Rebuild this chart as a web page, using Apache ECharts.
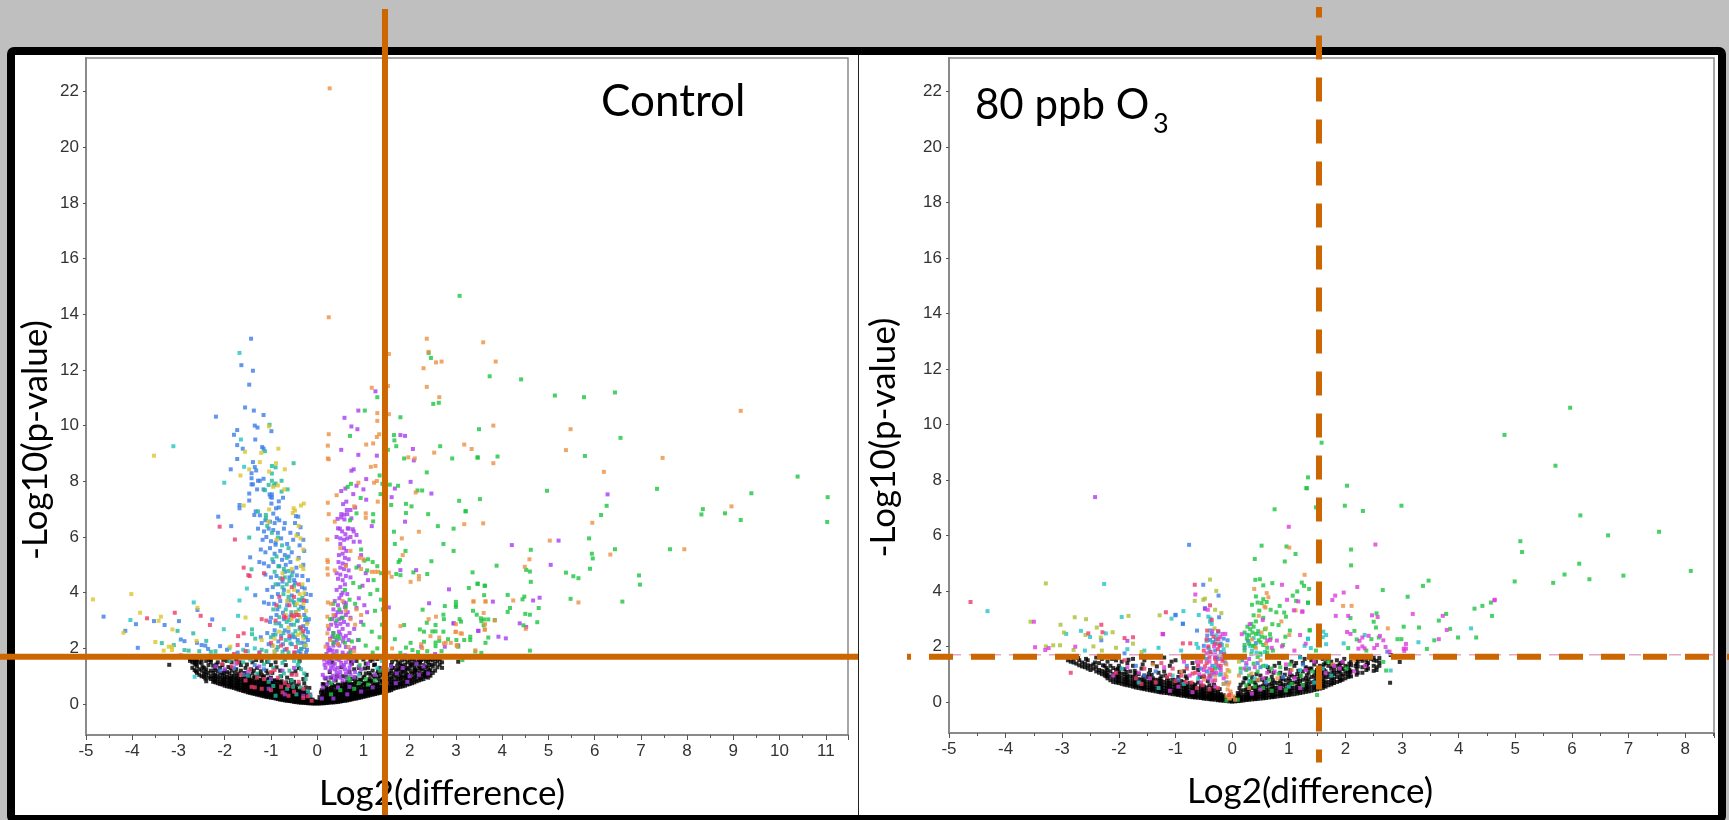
<!DOCTYPE html>
<html>
<head>
<meta charset="utf-8">
<title>Volcano plots</title>
<style>
html,body{margin:0;padding:0;background:#bfbfbf;}
#chart{width:1729px;height:820px;}
</style>
<script src="https://cdn.jsdelivr.net/npm/echarts@6/dist/echarts.min.js"></script>
</head>
<body>
<div id="chart"></div>
<script>
// tick labels
var yTicks = [0,2,4,6,8,10,12,14,16,18,20,22];
var ctlThreshold = {x:1.48, y:1.7};
var ozThreshold = {x:1.537, y:1.63, pink:1.7};

// Control panel: flat x,y,x,y lists per colour
var ctlBlue = [-1.43,13.12,-1.64,12.17,-1.39,11.97,-1.47,11.47,-1.56,10.65,-1.37,10.54,-1.16,10.38,-2.19,10.32,-1.35,10,-1.29,9.93,-.99,9.8,-1.73,9.84,-1.8,9.67,-1.34,9.5,-1.73,9.3,-1.61,9.17,-1.19,9.23,-1.16,9.17,-1.73,8.8,-1.39,8.69,-1.35,8.51,-1.32,8.39,-1.87,8.43,-1.42,8.29,-1.42,8.11,-1.16,8.09,-1.28,8.02,-1.24,8.02,-1.42,7.89,-1.39,7.89,-1.3,7.71,-1.16,7.71,-1.47,7.56,-1.03,7.53,-.98,7.53,-1.01,7.44,-.98,7.41,-.74,7.41,-1.47,7.31,-.83,7.28,-.99,7.2,-1.68,7.15,-1.68,7.03,-.83,7.06,-.89,7.03,-1.33,6.92,-1.36,6.79,-.95,6.84,-.41,6.73,-2.14,6.73,-.87,6.67,-1.86,6.39,-1.24,6.78,-1.2,6.5,-1.12,6.6,-1.02,6.55,-.92,6.5,-.82,6.6,-.7,6.5,-.46,6.75,-.48,6.5,-.36,6.35,-1.28,6.3,-1.15,6.2,-1.05,6.3,-.95,6.25,-.85,6.15,-.72,6.3,-.58,6.15,-.42,6.1,-1.45,5.27,-1.18,5.9,-1.1,6,-1,5.85,-.9,5.8,-.78,5.95,-.65,5.75,-.52,5.9,-.38,5.7,-.3,5.9,-1.22,5.55,-1.12,5.45,-1.02,5.6,-.92,5.4,-.8,5.5,-.7,5.35,-.55,5.45,-.4,5.25,-.28,5.5,-1.25,5.1,-1.15,5.05,-1.05,4.95,-.95,5.1,-.82,4.95,-.68,5,-.58,5.1,-.45,4.9,-.3,5,-1.34,3.91,-1.12,4.65,-1,4.55,-.88,4.6,-.75,4.4,-.6,4.55,-.48,4.35,-.32,4.6,-.2,4.45,-1.08,4.1,-.96,4.2,-.85,3.95,-.72,4.1,-.55,3.9,-.42,4.05,-.27,4.15,-.14,3.92,-1.15,3.65,-1.05,3.6,-.8,3.7,-.65,3.55,-.5,3.65,-.35,3.5,-.23,3.7,-1,3.1,-.88,3.2,-.72,3.05,-.58,3.15,-.42,3,-.28,3.2,-.18,3.05,-1.22,2.4,-1.08,2.55,-.92,2.65,-.78,2.45,-.62,2.6,-.48,2.4,-.32,2.55,-.24,2.7,-.98,2.1,-.84,2.25,-.7,1.95,-.55,2.15,-.4,1.9,-.28,2.05,-.2,2.3,-.3,2.8,-.24,2.4,-.34,2.2,-4.62,3.14,-3.92,2.87,-4.15,2.63,-3.88,2.02,-3.53,2.98,-2.99,2.98,-3.3,2.84,-2.95,2.32,-2.87,2.26,-2.59,3.38,-2.27,3.04,-2.6,2.2,-2.5,2.12,-2.42,2.1,-2.36,1.98,-2.1,2.08,-1.52,2.12,-1.95,1.95,-1.72,1.85,-2.1,1.2,-1.8,1.3,-1.6,1.05,-1.35,1.4,-1.15,1.25,-.98,3.85,-.86,3.4,-.74,3.28,-.62,3.72,-.57,2.85,-.46,3.3,-.38,2.75,-.3,3.45,-.24,3.95,-.21,2.95,-.33,4.2,-.44,4.62,-.53,4.75,-.7,4.75,-.84,4.3,-.93,3.6,-1.02,2.95,-.95,2.48,-.82,2.9,-.7,2.65,-.55,2.42,-.42,2.3,-.27,2.18,-.22,1.95,-.36,1.82,-.48,1.85,-.6,2.35,-.74,2.15,-.88,1.95,-1.05,2.15,-.2,2.58,-.26,3.02,-.34,3.72,-.5,4.45,-.62,5.3,-.76,5.18,-.9,5.72,-.34,1.98,-.24,1.85];
var ctlTeal = [-1.03,10.03,-1.13,9.08,-.51,8.65,-.98,8.55,-.9,8.5,-.98,8.28,-.77,8.02,-.98,8.02,-1.05,7.87,-.9,7.92,-.94,7.86,-1.13,7.68,-.77,7.63,-.64,7.71,-1.28,6.92,-1.11,6.79,-1.11,6.67,-1.47,5.98,-1.42,4.84,-1.08,6.4,-.98,6.15,-.85,5.98,-.76,5.7,-.88,5.3,-.66,5.25,-.97,5.2,-.72,4.85,-.62,4.78,-.92,4.75,-.8,4.52,-.55,4.62,-.66,4.3,-.9,4.3,-.75,4.2,-.62,3.85,-.5,4.25,-.4,3.75,-.82,3.5,-.68,3.4,-.95,3.4,-.56,3.3,-.4,3.4,-.9,2.9,-.78,2.8,-.66,2.95,-.5,2.85,-.37,2.7,-1,2.4,-.85,2.05,-.68,2.3,-.52,2.5,-.42,2.2,-.62,1.85,-1.1,1.9,-2.68,2.54,-3.36,2.19,-3.02,2.63,-3.1,2.12,-2.87,1.94,-2.78,1.92,-2.4,2.27,-2.55,1.9,-2.3,1.88,-2.2,1.9,-1.41,2.68,-1.41,2.51,-1.34,2.35,-1.15,1.42,-.95,1.3,-.75,1.48,-.6,1.2,-.42,1.4,-.28,1.1,-.8,1,-.55,.85,-1.3,1.1,-.95,.65,-.65,.55,-.35,.6,-1.6,1.5,-1.9,1.55,-.2,.45,-.45,.35,-.9,.3,-.73,3.95,-.6,4.42,-.48,3.55,-.32,3.82,-.25,3.1,-.6,3.02,-.47,2.62,-.3,2.45,-.82,3.12,-.73,2.55,-.9,2.5,-.58,2.18,-.35,1.98,-.75,1.88,-.44,2.98,-.54,3.72,-.7,4.55,-.84,4.95,-.62,5.6,-.25,2.12,-1.2,1.95,-.92,1.88,-.4,1.5,-.25,.9,-1.05,.8,-.72,1.1,-.35,1.25,-1.5,1.02,-.52,.62,-.15,.3];
var ctlCyan = [-1.68,12.61,-1.65,9.5,-1.58,8.52,-2.01,7.95,-1.52,4.15,-1.68,3.72,-2.67,3.65,-1.71,3.17,-2.02,2.69,-3.11,9.26,-4.04,3.02,-1.9,2,-1.6,1.95,-1.35,2,-1.25,1.85,-2.65,.98,-1.5,1.9,-2.2,1.75,-1.45,1.6,-1.05,1.55,-.7,1.6,-.5,1.55,.9,1.05,1.3,1.3,1.4,1.55];
var ctlYellow = [-1.04,9.97,-1.56,9.06,-1.21,9.02,-.84,9.17,-1.24,8.69,-.89,8.65,-1.47,8.43,-.7,8.43,-1.04,8.35,-1.66,8.21,-.85,7.85,-.95,7.8,-.71,7.71,-.29,7.2,-.35,7.13,-1.59,7.13,-.51,7.03,-1.04,6.99,-.53,6.86,-1.05,6.55,-.48,6.95,-.4,6.4,-.45,6.05,-.36,5.95,-.3,5.55,-.88,5.9,-.42,5.2,-.35,4.95,-.3,4.85,-.55,4.85,-.75,4.7,-.32,4.3,-.5,4.1,-.62,4.05,-.38,3.95,-.3,3.6,-.24,3.35,-.45,3.3,-.92,2.35,-.95,2.1,-.92,1.9,-.3,2.35,-.35,2.55,-.55,3.05,-1.55,3.11,-1.2,2.3,-4.85,3.76,-4.02,3.95,-3.83,3.28,-3.38,3.14,-3.43,2.99,-3.53,8.92,-3.13,2.68,-3.14,2.06,-3.21,2.06,-3.32,1.92,-3.5,2.23,-2.59,3.46,-2.61,2.27,-4.19,2.56,-1.88,2.06,-3.14,1.94,-.65,3.7,-.44,3.6,-.28,3.98,-.62,2.75,-.42,2.48,-.22,2.88,-.82,2.6,-.68,3.2,-.37,3.12,-.26,2.1];
var ctlRed = [-2.11,6.37,-1.78,5.91,-1.59,4.9,-1.49,4.63,-1.46,4.6,-1.15,4.7,-1.2,3.05,-2.52,3.17,-2.32,2.84,-3.68,3.08,-3.08,3.28,-1.71,2.44,-1.59,2.54,-1.72,2.12,-.75,4.5,-.72,3.15,-.55,3.2,-.5,3.15,-.45,3.2,-.4,3.2,-.82,3.85,-.55,4.2,-.5,3.85,-.68,3.1,-.9,3,-1.1,3,-1,2.2,-.78,2.1,-.6,2.45,-.35,2.75,-.5,1.85,-1.25,1.85,-1.55,1.9,-1.8,1.8,-2.05,1.45,-1.85,1.35,-1.65,1.05,-1.55,.85,-1.45,1.25,-1.3,.95,-1.15,.9,-1,1.15,-.85,.95,-.7,.75,-.55,1.05,-.4,.8,-.3,.55,-1.2,.55,-1,.5,-.75,.42,-.62,.65,-.5,.45,-2.95,1.75,-1.35,.6,-.2,.28,-.12,.12,-.88,3.55,-.6,3.55,-.4,4.3,-.28,3.72,-.78,2.35,-.46,2.05,-.3,2.62,-.66,1.98,-.92,1.22,-.78,.62,-.45,1.05,-.62,.3,-.3,.22,-1.42,.62,-1.72,1.5];
var ctlPurple = [1.26,11.23,.89,10.54,.59,10.28,.74,9.97,.87,9.87,.52,9.13,2.07,9.16,1.8,9.66,1.9,9.63,.89,8.95,1.29,8.92,2.09,8.75,.74,8.38,.79,8.43,1.06,8.08,2.02,7.98,.61,7.74,.52,7.65,.85,7.84,1,7.71,1.68,7.74,2.47,7.56,.78,7.54,1.06,7.34,1.61,7.43,.63,7.27,.56,7.18,.82,7.06,.64,6.97,.72,6.97,.52,6.82,.58,6.8,.52,6.7,.59,6.63,.65,6.82,.74,6.67,.44,6.65,1.18,6.39,.45,6.31,.66,6.31,.77,6.28,1.9,6.55,.49,6.3,.54,6.2,.61,6.1,.68,6.3,.79,6.2,.85,6.07,.42,6,.5,5.95,.58,5.9,.65,5.95,.72,6,.79,5.83,.92,5.83,.5,5.75,.58,5.6,.63,5.5,.55,5.4,.47,5.35,.6,5.25,.68,5.2,.46,5.1,.55,5.05,.62,5,.5,4.9,.58,4.85,.42,4.7,.5,4.65,.62,4.6,.68,4.8,.72,4.55,.45,4.5,.55,4.45,.95,5.35,1.05,4.7,.9,4.95,1.1,4.45,.98,4.25,.6,4.3,.5,4.2,.42,4.1,.55,4,.65,3.95,.48,3.8,.38,3.7,.58,3.65,.45,3.55,.35,3.4,.52,3.3,.4,3.2,.62,3.2,.32,3.05,.48,3.05,.58,2.95,.3,2.85,.42,2.8,.55,2.7,.25,2.7,.35,2.55,.5,2.5,.62,2.45,.28,2.35,.42,2.3,.56,2.25,.22,2.15,.35,2.1,.48,2.1,.62,2.05,.28,1.95,.42,1.9,.55,1.85,.72,1.95,.2,1.8,.35,1.78,.9,3.8,1.02,3.55,.85,3.45,.72,3.1,.95,2.95,1.08,3.3,.8,2.7,.88,2.3,1.55,3.47,2.14,4.81,1.8,4.81,2.85,4.12,2.42,3.62,2.95,2.9,3.48,2.63,4.21,5.71,5.22,5.87,5.05,5,6.28,7.53,4.81,3.82,4.67,3.72,3.8,3.68,4.38,2.9,4.52,2.77,3.49,2.63,3.92,2.42,4.08,2.36,3.05,2.11,2.25,2.06,2.76,2.06,2.95,2.9,1.9,1.75,2.55,1.8,.15,1.6,.22,1.5,.3,1.62,.38,1.45,.48,1.58,.55,1.35,.62,1.5,.7,1.3,.78,1.55,.18,1.3,.28,1.2,.38,1.25,.5,1.15,.62,1.1,.72,1.05,.12,1.05,.25,.95,.4,.95,.55,.85,.82,1.15,.95,1.25,1.1,1.45,1.25,1.05,1.4,1.25,1.6,1.35,1.72,1.1,1.85,1.3,2,1,2.15,1.45,2.3,1.35,2.4,1.1,2.2,1.05,1.95,.8,1.7,.75,1.2,.6,.95,.45,.65,.35,.35,.2,.1,.2,.7,.62,.45,.6,1.5,.75,-.15,.35,-.5,1.3,-.75,1.2,-1,.9,-1.25,1.35,-1.5,1.15,-1.75,1.45,-2,1.25,-2.2,1.35,-1.05,.55,-.7,.35,-.3,.3,.52,3.92,.44,3.3,.6,3.48,.53,3.1,.4,2.92,.66,2.85,.47,2.6,.33,2.42,.57,2.38,.45,2.15,.33,1.92,.6,1.75,.46,1.72,.25,2.02,.68,2.3,.7,2.55,.38,3.15,.5,2.88,.62,3.62,.66,3.3,.36,2.22,.24,1.92,.68,1.82,.8,2.02,.16,1.42,.26,1.55,.42,1.62,.52,1.48,.68,1.62,.72,1.42,.34,1.38,.44,1.3,.6,1.25,.16,.95,.34,1.02,.46,1.05,.22,.72,.36,.85,.5,.95,.64,.92,.8,.98,.9,1.35,.26,1.45,.12,.6,.3,1.3,.68,1.18,.42,1.14,.58,1.4];
var ctlGreen = [3.08,14.66,2.41,12.61,2.46,12.43,3.73,11.77,1.3,11.02,2.51,10.78,2.63,10.82,1.03,10.54,1.8,10.3,.71,9.63,1.66,9.66,1.67,9.47,1.71,9.26,1.53,9.13,2.66,9.26,3.5,9.87,1.88,8.82,2.92,8.82,3.47,8.86,2.37,8.32,1.35,8.21,1.41,7.91,1.57,7.88,1.75,7.84,.73,7.91,.66,7.8,2.17,7.67,2.27,7.67,.94,7.4,1.37,7.54,3.07,7.3,3.52,7.36,1.6,7.15,1.92,7.19,2.04,7.1,3.21,6.93,1.92,6.86,2.4,6.82,1.21,6.82,.85,6.85,1.21,6.56,.71,6.6,2.61,6.39,2.95,6.3,1.66,6.19,1.68,5.75,2.73,5.75,2.95,5.5,1.91,5.5,1.79,5.17,1.76,5.1,2.47,5.13,3.36,4.73,1.71,4.67,1.8,4.63,2.08,4.73,2.38,4.67,3.47,4.33,3.63,4.25,3.28,4.17,3.61,3.91,2.76,3.52,3,3.67,3,3.55,3,3.49,2.28,3.39,3.37,3.35,3.45,3.21,2.73,3.21,2.74,3.05,2.37,2.92,3.54,3.08,3.55,2.98,3.61,3.04,3.7,3.04,3.08,3.05,3.11,2.96,2.56,2.84,1.88,2.84,2.22,2.68,2.31,2.6,2.56,2.61,2.49,2.61,2.73,2.6,1.68,2.33,3.31,2.42,3.31,2.3,3.7,2.39,3.18,2.3,3.64,2.2,3.01,2.3,2.83,2.33,2.31,2.24,2.56,2.21,2.64,2.27,2.02,2.2,3.05,2.06,1.92,2.03,2.56,2.08,2.06,1.94,1.8,1.84,2.18,1.87,2.38,1.9,3.55,1.84,2.69,1.9,4.41,11.66,5.14,11.08,5.77,11.02,6.44,11.19,6.56,9.56,3.47,8.85,3.9,8.89,5.79,8.91,10.39,8.17,4.97,7.66,7.35,7.73,9.39,7.57,11.04,7.43,3.21,6.92,6.26,7.12,6.14,6.79,8.34,7,8.31,6.81,8.82,6.85,9.16,6.61,11.03,6.54,5.88,5.95,4.62,5.54,6.44,5.56,7.63,5.56,5.94,5.4,5.96,5.23,3.88,4.97,4.52,4.82,4.6,4.76,5.9,4.86,5.38,4.72,5.54,4.59,5.65,4.52,6.96,4.62,4.62,4.39,3.47,4.31,3.62,4.25,6.98,4.29,4.12,3.92,4.48,3.86,4.44,3.76,5.48,3.78,6.6,3.68,4.17,3.45,4.12,3.31,4.79,3.45,4.5,3.24,4.6,3.21,3.84,3.02,4.76,2.94,4.46,2.83,3.6,2.83,3.42,1.89,4.6,1.92,3.14,1.58,.95,5.55,1.02,5.15,1.1,5.2,1.2,5.1,1.3,4.95,.85,4.9,1.08,4.8,1.22,4.45,1.38,4.7,1.45,5.3,.78,4.35,.92,4.2,1.15,3.95,1.3,4.1,1.42,3.4,.6,4.1,.7,3.75,.82,3.6,1.25,3.35,1.38,3.75,.35,3.6,.48,3.4,.62,3.5,.28,3.05,.42,3,.55,3.1,1,2.85,1.18,2.6,1.35,2.4,1.4,2.85,.35,2.55,.38,2.4,.45,2.45,.35,2.2,.48,2.35,.9,2.3,.75,2.25,1.05,2.1,1.3,2,.6,2.2,.72,1.85,.42,1.75,1.2,1.85,.9,.75,1.05,.9,.7,.85,1.25,.85,.5,.5,.8,.55,1.1,.7,.3,.35,1.45,.95,1.35,1.2,.92,1.4,.68,.95,.3,.75];
var ctlOrange = [.27,22.11,.25,13.89,2.37,13.12,1.55,12.57,1.53,11.42,1.18,11.36,2.41,12.65,2.3,12.06,2.57,12.27,2.69,12.3,2.37,11.39,2.64,11.02,3.59,12.99,3.86,12.3,1.3,10.45,1.55,10.41,1.3,10.17,.25,9.69,1.34,9.69,1.29,9.59,1.21,9.36,1.06,9.32,.23,9.28,3.18,9.32,3.34,9.16,2.53,9.03,.23,8.82,.25,8.79,1.97,8.86,2.11,8.82,1.16,8.52,1.26,8.55,.89,7.95,1.23,7.95,1.29,8.01,2.13,7.6,1.31,7.27,.23,7.23,.25,6.82,1.05,6.69,.38,6.55,3.18,6.46,3.59,6.49,2.2,6.19,1.83,5.95,1.85,5.35,1.55,4.72,2.2,4.6,2.2,4.48,2.02,4.39,1.61,4.57,3.38,3.69,3.64,3.69,2.57,3.14,2.41,3.05,3,2.87,3.63,2.87,1.8,2.8,3.63,2.68,3,2.6,3.1,2.54,2.45,2.44,2.64,2.39,2.74,2.18,2.78,2.2,2.89,2.2,3.02,2.12,1.62,2,2.25,2.15,2.27,2.01,3.42,1.93,3.81,10,5.48,9.87,5.38,9.12,3.81,8.65,7.47,8.84,6.2,8.34,8.96,7.1,9.16,10.53,5.95,6.51,5.03,5.87,6.34,5.37,7.94,5.56,4.59,5.2,4.49,4.93,4.24,3.72,3.38,3.68,3.64,3.68,5.65,3.65,3.6,3.27,3.84,3,4.51,2.7,3.62,2.67,2.99,2.59,3.13,2.53,3.02,2.08,.22,5.91,.22,5.17,.23,5.1,.22,4.87,.23,4.65,.23,3.65,.22,3.14,.23,2.81,.22,2.54,.18,2.06,.3,3.6,.35,3.2,.55,3.7,.62,3.35,.72,3.05,.82,2.85,.85,3.4,.95,3.2,.28,2.3,.45,2.15,.68,2.05,.8,1.9,.95,4.85,.72,5.5,.92,5.25,1,5.2,1.18,4.75,1.25,4.75,1.32,4.75,.62,4.95,.38,4.8,.5,5.6,.42,7.5,.8,7.1,1.05,6.85];

// black band: x then the y values stacked at that x
var ctlBlack = [
[-3.2,[1.41]],[-2.75,[1.55,1.62]],[-2.7,[1.3,1.5,1.6]],[-2.65,[1.22,1.45,1.58]],[-2.6,[1.12,1.36,1.6]],[-2.55,[1.05,1.25,1.5]],[-2.5,[1,1.2,1.48,1.62]],[-2.45,[.98,1.1,1.3]],[-2.4,[.82,1.05,1.25,1.55]],[-2.35,[.95,1.12,1.4]],[-2.3,[.9,1,1.2,1.5,1.6]],[-2.25,[.8,.95,1.12,1.38]],[-2.2,[.78,.9,1.05,1.3]],[-2.15,[.75,.88,1,1.18,1.5]],[-2.1,[.72,.82,.96,1.12,1.3]],[-2.05,[.7,.8,.92,1.05,1.4]],[-2,[.66,.76,.9,1,1.2]],[-1.95,[.64,.74,.86,.98,1.15,1.55]],[-1.9,[.62,.72,.82,.95,1.1]],[-1.85,[.6,.68,.8,.9,1.02,1.2,1.5]],[-1.8,[.58,.66,.76,.88,1]],[-1.75,[.55,.64,.74,.85,.95,1.25,1.6]],[-1.7,[.52,.6,.7,.8,.92,1.1]],[-1.65,[.5,.58,.68,.78,.9,1.2,1.4]],[-1.6,[.47,.56,.66,.75,.86,1]],[-1.55,[.45,.52,.62,.72,.82,.95,1.3]],[-1.5,[.42,.5,.6,.68,.78,.9,1.05]],[-1.45,[.4,.48,.56,.65,.76,.88]],[-1.4,[.38,.46,.54,.62,.72,.84,1.1,1.5]],[-1.35,[.36,.44,.52,.6,.7,.8,.98]],[-1.3,[.34,.42,.5,.58,.66,.78,.92,1.3]],[-1.25,[.32,.4,.48,.56,.64,.75,.88]],[-1.2,[.3,.38,.46,.52,.62,.72,.85,1.05,1.55]],[-1.15,[.28,.36,.44,.52,.6,.7,.82,1]],[-1.1,[.26,.34,.42,.48,.58,.68,.8,1.2]],[-1.05,[.25,.32,.4,.46,.55,.65,.78,.92]],[-1,[.23,.3,.38,.44,.52,.62,.75,.95,1.4]],[-.95,[.22,.28,.36,.42,.5,.6,.72,.85]],[-.9,[.2,.26,.34,.4,.48,.58,.68,.82,1.5]],[-.85,[.18,.25,.32,.38,.46,.55,.66,.8]],[-.8,[.16,.22,.3,.36,.44,.52,.62,.78,1.2]],[-.75,[.15,.2,.28,.34,.42,.5,.6,.72]],[-.7,[.13,.18,.26,.32,.4,.48,.58,.7,1.6]],[-.65,[.12,.17,.24,.3,.38,.46,.56,.68,.95]],[-.6,[.11,.16,.22,.28,.36,.44,.52,.64]],[-.55,[.1,.15,.2,.26,.34,.42,.5,.62,1.1]],[-.5,[.08,.13,.19,.25,.32,.4,.48,.6,.8]],[-.45,[.07,.12,.18,.23,.3,.38,.46,.56]],[-.4,[.06,.11,.16,.22,.28,.36,.44,.7,1.3]],[-.35,[.05,.1,.15,.2,.26,.34,.42,.52]],[-.3,[.05,.09,.14,.18,.24,.32,.4,.9]],[-.25,[.04,.08,.12,.17,.22,.3,.38,.6]],[-.2,[.03,.07,.11,.15,.2,.28,.42]],[-.15,[.03,.06,.1,.14,.18,.26]],[-.1,[.02,.05,.08,.12,.16]],[-.05,[.02,.04,.07,.1]],[0,[.02,.05,.08]],[.05,[.02,.04,.08,.12,.25]],[.1,[.03,.06,.1,.14,.2,.3,.5]],[.15,[.03,.07,.12,.18,.25,.34,.48,.7]],[.2,[.04,.08,.13,.2,.28,.38,.52,.62]],[.25,[.05,.1,.15,.22,.3,.4,.55,.78]],[.3,[.06,.11,.17,.24,.32,.44,.58,.95]],[.35,[.06,.12,.18,.26,.34,.46,.62]],[.4,[.07,.13,.2,.28,.36,.48,.66,.85]],[.45,[.08,.14,.22,.3,.38,.5,.7]],[.5,[.09,.16,.23,.32,.42,.55,.68]],[.55,[.11,.17,.25,.34,.44,.58,.75,1]],[.6,[.12,.19,.27,.36,.46,.6,.72]],[.65,[.13,.2,.29,.38,.48,.62,.8]],[.7,[.15,.22,.3,.4,.5,.65,.78,1.15]],[.75,[.17,.24,.32,.42,.54,.7,.9,1.45]],[.8,[.19,.26,.34,.44,.58,.72,1.25]],[.85,[.2,.28,.36,.46,.6,.78,1.55]],[.9,[.22,.3,.38,.48,.62,.8,1.3]],[.95,[.24,.32,.4,.52,.66,.85]],[1,[.26,.34,.42,.55,.7,.95,1.6]],[1.05,[.28,.36,.44,.58,.72,1.1,1.45]],[1.1,[.3,.38,.46,.6,.78,1.3]],[1.15,[.32,.4,.48,.62,.8,1.05,1.55]],[1.2,[.34,.42,.52,.66,.85,1.2,1.6]],[1.25,[.36,.44,.55,.7,.95,1.42]],[1.3,[.38,.46,.58,.72,1.1,1.62]],[1.35,[.4,.48,.6,.8,1,1.3]],[1.4,[.42,.52,.64,.85,1.15]],[1.45,[.44,.55,.68,.92]],[1.5,[.46,.58,.72,.98,1.25]],[1.55,[.48,.6,.75,.9,1.1]],[1.6,[.5,.62,.78,.95,1.2,1.4]],[1.65,[.55,.68,.8,1,1.3]],[1.7,[.58,.7,.85,1.05,1.15,1.6]],[1.75,[.6,.72,.9,1.1,1.25,1.5]],[1.8,[.62,.75,.92,1.05,1.3,1.45]],[1.85,[.64,.78,.95,1.15,1.35]],[1.9,[.66,.82,1,1.2,1.42,1.6]],[1.95,[.7,.85,1.05,1.25,1.5]],[2,[.72,.88,1.02,1.3,1.58]],[2.05,[.75,.9,1.1,1.42,1.62]],[2.1,[.78,.95,1.15,1.3,1.55]],[2.15,[.82,1,1.2,1.5]],[2.2,[.85,1.05,1.35,1.6]],[2.25,[.88,1.02,1.25,1.58]],[2.3,[.9,1.08,1.4,1.62]],[2.35,[.98,1.15,1.35,1.55]],[2.4,[.95,1.1,1.28,1.5]],[2.45,[1.02,1.22,1.6]],[2.5,[1.12,1.35,1.58]],[2.55,[1.2,1.45,1.62]],[2.6,[1.32,1.55]],[2.65,[1.42,1.6]],[2.7,[1.3,1.5]],[3.05,[1.52]],
[-2.62,[1.18,1.42]],[-2.42,[.92,1.16]],[-2.22,[.84,1,1.22]],[-2.02,[.74,.86,1.12]],[-1.87,[.66,.78,.92,1.3]],[-1.72,[.58,.7,.84,1.02]],[-1.57,[.5,.6,.74,.9,1.12]],[-1.47,[.44,.54,.7,.84,1]],[-1.37,[.4,.5,.64,.78,.94,1.2]],[-1.27,[.36,.46,.6,.72,.86,1.06]],[-1.17,[.32,.42,.56,.68,.8,.96]],[-1.07,[.28,.4,.5,.62,.74,.88,1.1]],[-.97,[.26,.36,.48,.58,.7,.84]],[-.87,[.22,.32,.44,.56,.68,.86]],[-.77,[.18,.28,.4,.54,.66,.82]],[-.67,[.15,.24,.36,.5,.64,.78]],[-.57,[.12,.22,.32,.46,.58,.74]],[-.47,[.1,.18,.28,.42,.52,.66]],[-.37,[.08,.16,.24,.38,.48]],[-.27,[.06,.12,.2,.34,.46]],[-.17,[.05,.1,.16,.22,.32]],[.12,[.05,.1,.16,.26,.4]],[.22,[.06,.12,.2,.32,.46]],[.32,[.08,.16,.26,.38,.52,.7]],[.42,[.1,.18,.3,.42,.6]],[.52,[.12,.22,.34,.5,.62]],[.62,[.16,.26,.4,.54,.68]],[.72,[.18,.28,.44,.58,.72]],[.82,[.22,.32,.48,.64,.82]],[.92,[.26,.36,.52,.68,.88]],[1.02,[.3,.4,.56,.76,.98]],[1.12,[.34,.44,.6,.84,1.12]],[1.22,[.38,.48,.62,.76,1]],[1.32,[.42,.52,.68,.92,1.2]],[1.42,[.48,.62,.78,1.05]],[1.52,[.54,.68,.82,1.05]],[1.62,[.58,.72,.88,1.1,1.3]],[1.72,[.64,.78,.98,1.22]],[1.82,[.7,.84,1,1.18,1.38]],[1.92,[.76,.92,1.1,1.3]],[2.02,[.82,.98,1.18,1.38]],[2.12,[.88,1.05,1.25,1.42]],[2.22,[.94,1.12,1.28,1.5]],[2.32,[1,1.18,1.32]],[2.42,[1.05,1.18,1.4]]
];
// speckle above the solid part of the band
var ctlBlackUpper = [-2.62,1.52,-2.48,1.34,-2.33,1.58,-2.18,1.42,-2.03,1.58,-1.92,1.33,-1.78,1.12,-1.68,1.5,-1.52,1.42,-1.43,1.25,-1.32,1.58,-1.22,1.18,-1.08,1.52,-.97,1.12,-.88,1.32,-.78,1,-.68,1.4,-.57,.86,-.47,1.18,-.38,1.55,-.28,.75,-.23,1.05,-.17,.58,.08,.42,.12,.72,.18,.92,.27,1.15,.33,1.5,.43,1,.52,1.32,.63,.98,.73,1.52,.83,.95,.93,1.1,1.03,1.28,1.13,.9,1.23,1.4,1.33,1.15,1.62,1.52,1.73,1.38,1.83,1.58,1.93,.95,2.02,1.45,2.12,1.2,2.22,1.48,2.28,1.3,2.33,1.05,2.42,1.62,2.48,1.42];

// 80 ppb O3 panel
var ozBlue = [-.76,5.66,-.51,4.22,-.24,3.83,-.48,3.38,-1,3.14,-.87,2.82,-.62,2.57,-.36,2.45,-.44,2.39,-.24,2.53,-.39,2.23,-.29,2.26,-.08,2.22,-.23,3.05,-2.31,2.22,-1,3.12,-.87,2.81,-.42,1.95,-.3,1.85,-.2,1.8,-.12,1.4,-.35,1.3,-.25,1.55,-.45,1.55,-.55,1.2,-.38,.9,-.2,1,-.1,.7,-1.35,1.1,-1.55,.95,-.95,.8,-.8,1.3,.3,1.2,.18,1.5,.45,1.4,2.74,1.81,-1.9,1.75,-1.7,1.3,1.25,1.35,.9,.9,.6,.7,-.33,2.15,-.2,2.1,-.38,1.72,-.15,2.28,-.5,2.02,-.27,1.62,-.45,1.1,-.22,1.22,-.32,1.02,-.14,1.75,.28,2.2,.42,2.12,.22,1.95,.5,1.25];
var ozRed = [-4.62,3.6,-2.31,2.78,-2.54,2.47,-2.29,2.51,-1.17,3.23,-.66,4.22,-.39,3.48,-.44,2.57,-.24,2.26,-.87,2.11,-.74,2.11,-1.9,2.3,-1.75,2.33,-.36,2.95,-.3,2.1,-.42,2,-.5,1.85,-.38,1.8,-.25,1.9,-.15,1.7,-.3,1.55,-.45,1.4,-.2,1.3,-.55,1.45,-.35,1.15,-.65,1.05,-.5,.95,-.8,1.2,-.9,.95,-.72,.7,-1.05,1.2,-1,.75,-1.25,1.4,-1.15,.9,-1.35,.7,-1.55,1.2,-1.7,.85,-1.9,1.5,-2.05,1.05,-2.85,1.05,-.62,.5,-.4,.45,-.25,.5,-.05,.25,-.33,2.35,-.45,2.25,-.22,2.05,-.4,1.6,-.28,1.42,-.17,1.48,-.48,1.28,-.4,.95,-.3,.78,-.6,1.32,-.7,1.02,-.82,.72,-.52,.6,-1.1,.98,-1.6,.65,-.25,2.55];
var ozMagenta = [1,6.31,-.65,3.87,-.43,3.32,-3.5,2.89,-3.48,1.97,-3.3,1.87,-3.24,1.94,-2.77,1.99,-1.22,2.44,-1.23,2.45,-.17,2.45,-.12,2.45,-.21,2.35,.88,4.22,.97,3.68,1.17,3.62,1.09,3.3,1.24,3.25,.54,2.95,.31,2.8,.17,2.44,1.2,2.41,.62,2.21,.67,2.23,.79,2.21,2.53,5.67,2.21,4.14,1.97,3.94,1.82,3.83,1.77,3.67,1.24,3.26,1.83,3.1,2.05,3.1,2.47,3.12,2.57,3.06,3.19,3.17,3.72,3.1,4.63,3.66,4.64,3.68,3.79,2.59,3.65,2.26,3.07,2.09,3.03,1.92,3.07,1.92,3.04,1.84,2.03,2.52,2.09,2.45,2.25,2.2,2.3,2.32,2.41,2.38,2.61,2.38,2.56,2.05,2.51,1.94,2.23,1.92,2.3,2,2.34,1.93,2.67,2.22,2.71,1.98,2.78,1.81,-.32,2,-.45,1.75,-.3,1.7,-.18,1.55,-.4,1.2,-.28,1.05,-.5,1.15,-.35,.75,-.15,.85,-.55,.7,-.75,.95,-.85,1.45,-.95,.55,-1.2,1.25,-1.45,.85,-1.65,1.05,-1.85,1.25,-2.1,.95,.25,1.4,.4,1.25,.55,.85,.75,1.1,.95,1.35,1.1,.85,1.3,1.15,1.45,1.45,1.65,1.05,1.8,1.3,1.95,1.45,2.15,1.1,2.35,1.3,.5,.45,.85,.5,1.2,.5,.35,.3,-.7,.35,-1.1,.4,.7,1.95,.88,2,1.1,1.85,1.3,2.1,-.4,1.45,-.24,1.3,-.35,1.05,-.42,.85,-.2,1.15,-.3,.55,-.58,1,-.62,1.45,-.22,2.02,-.35,2.55,.22,1.2,.62,1.05,1.02,1.05,1.55,.88,1.9,1.2];
var ozGreen = [.75,6.94,1.32,7.7,.52,5.63,.96,5.6,1.12,5.33,.93,5.06,.4,5.15,.41,4.4,.49,4.42,.55,4.2,.71,4.28,1.23,4.3,1.27,4.18,1.36,4.07,1.15,3.98,1.07,3.83,.42,3.8,.55,3.7,.61,3.6,.45,3.58,.52,3.56,.35,3.5,.84,3.46,1.13,3.64,1.34,3.58,.68,3.32,.78,3.23,.48,3.29,.92,3.22,.95,3.07,.38,3.12,.71,2.8,.82,2.77,.42,2.9,.34,2.81,.38,2.71,.55,3.03,.27,2.71,1.02,2.57,1.37,2.57,.22,2.5,.94,2.35,.52,2.35,.67,2.44,.68,2.29,.3,2.4,.42,2.45,.5,2.15,.55,2.05,.4,2,.62,1.95,.3,2.1,.72,1.85,.9,2.05,.22,1.85,.5,1.75,1.58,9.34,1.34,8.09,1.31,7.7,2.03,7.79,1.99,7.07,1.48,7.01,2.31,6.88,2.99,7.07,2.1,5.49,2.1,4.92,3.47,4.37,3.37,4.18,2.66,4.03,3.1,3.79,1.34,3.57,2.09,3.02,2.55,3.19,2.5,2.89,3.78,3.17,3.65,2.93,4.28,3.36,4.42,3.46,4.57,3.58,4.59,3.1,2.54,2.68,3.03,2.71,3.3,2.68,3.85,2.63,3.99,2.32,4.31,2.32,3.57,2.22,2.92,2.26,2.99,2.26,3.44,1.91,1.37,2.59,1.48,1.85,2.16,2.56,2.05,1.94,2.46,2.26,2.59,2.32,2.2,2.25,2.37,1.85,2.67,1.44,2.72,1.13,5.97,10.6,4.81,9.62,5.71,8.51,6.15,6.72,6.64,6,7.54,6.13,5.09,5.79,5.12,5.4,6.13,4.98,5.87,4.59,5.67,4.29,6.31,4.42,6.91,4.55,8.1,4.72,4.99,4.34,.15,1.2,.3,.95,.45,1.1,.65,.8,.85,1.25,1.05,.65,1.22,.95,1.5,.25,1.02,1.35,1.42,1.1,1.7,1.45,2.02,1.2,.25,.6,.55,.5,-.1,.05,.1,.08,-.3,1.2,.7,.4,.32,2.62,.36,2.5,.46,2.55,.58,2.62,.26,2.28,.37,2.02,.47,2.22,.58,2.32,.22,2.05,.34,1.72,.62,1.78,.25,1.15,.38,1.38,.55,1.3,.7,1.2,.34,.72,.4,.55,.95,.42,1.25,.6,.82,1.02,.45,1.62];
var ozOrange = [1.01,5.56,1.28,4.58,.39,4.07,.61,3.92,.64,3.77,.57,3.44,.59,3.4,.47,3.1,.87,2.9,1.01,2.41,1.96,3.46,2.11,3.46,2.75,2.65,.52,2.5,.6,2.1,.35,2.25,.42,1.95,-.1,1.35,-.08,1.15,-.12,1,-.05,.7,-.08,.45,-.02,.3,-.1,.2,-.04,.12,.02,.2,.05,.08,-.06,.22,.12,.95,.3,.5,.45,.8,.8,.85,1.05,1.15,-.3,.95,-.5,.8,-.9,1.1,-1.4,1.35,1.12,3.3,1.78,1.35,2.15,1.5,-.13,1.55,-.1,.9,-.07,.62,-.15,.65,-.03,.38,-.06,.15,.34,1.02,.5,1.5];
var ozCyan = [-2.26,4.25,-4.32,3.27,-2.93,2.45,-2.67,2.56,-2.51,2.34,-2.23,2.47,-1.95,3.06,-1.07,3,-.86,3.27,-.59,3.13,-.42,3.07,-.39,2.89,-.36,2.81,-.38,3,-.63,2.09,.47,2.45,.38,2.3,1.34,2.27,1.61,2.53,1.66,2.41,1.6,2.33,1.66,2.08,1.34,2.28,1.28,2.02,1.39,1.94,1.97,2.11,2.34,2.41,3.29,2.15,4.22,2.65,2.8,1.13,-.35,2.15,-.25,2.1,-.45,2.2,-.15,1.9,-.6,1.95,-.9,1.85,-1.3,1.95,-1.55,1.85,-1.85,1.9,-2.6,1.85,.35,1.85,.5,1.7,.2,1.65,.15,1.05,.6,1.3,.3,.75,-.25,1.25,-.4,1.05,-.15,.65,-.6,.85,-.85,.65,-1.05,.95,-1.3,.5,-1.65,.7,-1.95,1.2,1.2,1.15,1,.55,1.45,.7,1.6,1.2,1.75,.95,.85,1.65,1.2,1.6,-.38,2.58,-.28,2.4,-.4,1.85,-.18,2.05,-.3,1.3,-.5,1.62,-.22,.98,.26,2.42,.32,2.02,.43,1.78,.25,1.32,.58,1.8,.4,.85];
var ozOlive = [-3.29,4.27,-3.56,2.89,-3.03,2.78,-2.97,2.5,-2.78,3.05,-2.58,2.98,-2.39,2.68,-2.59,2.41,-2.11,2.51,-2.32,2.32,-3.29,2,-3.16,2.04,-3.04,2.04,-2.8,1.87,-1.83,3.1,-1.28,3.12,-.39,4.41,-.28,4,-.66,3.64,-.51,3.68,-.48,3.72,-.3,3.32,-.19,3.2,-.31,2.65,-.09,2.03,-2.45,2,-2.3,1.85,-1.75,2.1,-1.6,1.8,-2.05,1.95,.6,2.65,.12,1.45,-.1,1.6,-.05,1.1,-.2,1.65];
var ozPurple = [-2.42,7.38,-.48,3.35,-1.22,2.44,-.3,1.6,-.6,1.3,.3,1.55,-1.85,2.2];
var ozBlack = [
[-2.9,[1.5]],[-2.85,[1.45]],[-2.8,[1.42,1.55]],[-2.75,[1.38]],[-2.7,[1.32,1.5]],[-2.65,[1.28,1.42]],[-2.6,[1.25,1.38]],[-2.55,[1.2,1.32,1.5]],[-2.5,[1.15,1.3]],[-2.45,[1.2,1.35]],[-2.4,[1.1,1.25,1.6]],[-2.35,[1.05,1.15,1.4]],[-2.3,[1,1.12,1.55]],[-2.25,[.95,1.08,1.3]],[-2.2,[.85,.98,1.15,1.45]],[-2.15,[.78,.92,1.1,1.3]],[-2.1,[.72,.85,1,1.22]],[-2.05,[.7,.82,.95,1.15,1.5]],[-2,[.68,.8,.92,1.08,1.3]],[-1.95,[.65,.75,.88,1.02,1.45]],[-1.9,[.62,.72,.84,1,1.18]],[-1.85,[.6,.7,.82,.95,1.4]],[-1.8,[.58,.66,.78,.92,1.1]],[-1.75,[.55,.64,.75,.9,1.3,1.55]],[-1.7,[.52,.62,.72,.86,1.05]],[-1.65,[.5,.58,.7,.82,1]],[-1.6,[.48,.56,.66,.8,1.2]],[-1.55,[.46,.54,.64,.76,.95,1.5]],[-1.5,[.44,.52,.62,.74,.9]],[-1.45,[.42,.5,.6,.72,.88,1.15]],[-1.4,[.4,.48,.58,.7,.85,1.4]],[-1.35,[.38,.46,.56,.66,.8]],[-1.3,[.36,.44,.54,.64,.78,1.05]],[-1.25,[.34,.42,.52,.62,.76,.92]],[-1.2,[.33,.4,.5,.6,.72,1.1,1.6]],[-1.15,[.32,.38,.48,.58,.7,.85]],[-1.1,[.3,.37,.46,.56,.68,1.3]],[-1.05,[.28,.35,.44,.54,.66,.8]],[-1,[.27,.34,.42,.52,.64,.78,1.5]],[-.95,[.25,.32,.4,.5,.62,.9]],[-.9,[.23,.3,.38,.48,.6,.75]],[-.85,[.22,.28,.36,.46,.58,.72,1.1]],[-.8,[.2,.27,.34,.44,.56,.85]],[-.75,[.18,.25,.32,.42,.54,.68]],[-.7,[.17,.24,.3,.4,.52,.65,1.4]],[-.65,[.16,.22,.28,.38,.5,.62]],[-.6,[.15,.2,.27,.36,.48,.7,1.15]],[-.55,[.14,.19,.26,.34,.44,.58]],[-.5,[.12,.17,.24,.32,.42,.56,.9]],[-.45,[.11,.16,.22,.3,.4,.52]],[-.4,[.1,.15,.2,.28,.38,.6]],[-.35,[.09,.14,.19,.26,.36,.5]],[-.3,[.08,.12,.18,.24,.32,.44]],[-.25,[.06,.11,.16,.22,.3,.4]],[-.2,[.05,.1,.14,.2,.28]],[-.15,[.04,.08,.12,.18,.24]],[-.1,[.03,.07,.1,.15]],[-.05,[.02,.05,.08]],[0,[.01,.04,.07]],[.05,[.02,.05,.09,.15]],[.1,[.03,.07,.12,.2,.32]],[.15,[.04,.09,.15,.24,.38,.62]],[.2,[.05,.1,.17,.26,.42,.7]],[.25,[.07,.12,.19,.28,.44,.85]],[.3,[.08,.14,.2,.3,.46,.62]],[.35,[.09,.15,.22,.32,.5,.9]],[.4,[.1,.16,.24,.34,.48,.7]],[.45,[.11,.18,.26,.36,.52,.78]],[.5,[.12,.2,.28,.38,.55,.95]],[.55,[.13,.21,.3,.42,.58]],[.6,[.14,.22,.32,.44,.6,.85]],[.65,[.16,.24,.34,.46,.62,1.1]],[.7,[.17,.25,.36,.48,.66,.9]],[.75,[.18,.26,.38,.5,.7,1.3]],[.8,[.2,.28,.4,.52,.68]],[.85,[.21,.3,.42,.56,.75,1.05]],[.9,[.22,.32,.44,.6,.82,1.6]],[.95,[.24,.34,.46,.62,.78,1.2]],[1,[.25,.36,.48,.64,.85]],[1.05,[.27,.38,.5,.68,.95,1.45]],[1.1,[.28,.4,.52,.7,.9,1.3]],[1.15,[.3,.42,.55,.72,1]],[1.2,[.32,.44,.58,.75,.95,1.62]],[1.25,[.34,.46,.6,.8,1.1,1.4]],[1.3,[.36,.5,.62,.85,1.25]],[1.35,[.38,.52,.66,.82,1.05]],[1.4,[.4,.54,.7,.9,1.2,1.5]],[1.45,[.43,.56,.72,.95,1.35]],[1.5,[.45,.6,.75,1,1.15]],[1.55,[.48,.62,.8,.92,1.3]],[1.6,[.5,.65,.82,1.05,1.25,1.55]],[1.65,[.55,.7,.88,1.1,1.4]],[1.7,[.6,.72,.9,1.02,1.3]],[1.75,[.63,.78,.95,1.2,1.45]],[1.8,[.68,.82,1,1.15]],[1.85,[.72,.9,1.05,1.3,1.5]],[1.9,[.75,.88,1.1,1.35]],[1.95,[.8,.95,1.18,1.42]],[2,[.85,1,1.12,1.3]],[2.05,[.9,1.05,1.25]],[2.1,[.92,1.1,1.32,1.45]],[2.2,[.98,1.18,1.38,1.55]],[2.3,[1.05,1.25,1.48]],[2.4,[1.2,1.4]],[2.5,[1.12,1.3,1.5,1.6]],[2.55,[1.15,1.25,1.48]],[2.6,[1.3,1.42,1.58]],[2.8,[1.69]],[2.79,[.69]],[2.96,[1.44]],
[-2.22,[.92,1.04,1.22]],[-2.02,[.74,.88,1.02,1.2]],[-1.87,[.66,.78,.9,1.08]],[-1.72,[.58,.68,.82,.98]],[-1.57,[.5,.6,.72,.88]],[-1.42,[.44,.54,.66,.8,.98]],[-1.27,[.38,.48,.58,.7,.84]],[-1.12,[.34,.42,.52,.64,.78]],[-.97,[.28,.38,.46,.58,.72]],[-.82,[.24,.31,.4,.52,.64]],[-.67,[.18,.26,.34,.44,.56]],[-.52,[.14,.21,.28,.38,.5]],[-.37,[.1,.17,.23,.32,.44]],[-.22,[.07,.12,.18,.25]],[.12,[.05,.1,.16,.26]],[.27,[.09,.16,.24,.36,.52]],[.42,[.12,.2,.3,.42,.6]],[.57,[.16,.25,.36,.5,.7]],[.72,[.2,.3,.42,.58,.78]],[.87,[.25,.34,.48,.66,.88]],[1.02,[.3,.42,.56,.76,1]],[1.17,[.36,.48,.64,.84,1.12]],[1.32,[.44,.56,.74,.96,1.2]],[1.47,[.5,.66,.84,1.08]],[1.62,[.58,.74,.94,1.15,1.35]],[1.77,[.68,.85,1.05,1.3]],[1.92,[.8,1,1.22,1.4]],[2.07,[.95,1.15,1.38]],[2.22,[1.05,1.28,1.45]],[2.37,[1.15,1.32,1.5]]
];
var ozBlackUpper = [-2.72,1.58,-2.58,1.55,-2.42,1.42,-2.28,1.32,-2.12,1.55,-1.98,1.2,-1.83,1.52,-1.72,1.12,-1.58,1.35,-1.47,1.02,-1.33,1.28,-1.18,.95,-1.07,1.45,-.93,1.08,-.82,.92,-.68,1.22,-.57,.9,-.43,.75,-.32,.62,-.22,.46,.13,.5,.22,.85,.33,.75,.43,1,.53,.8,.63,1.25,.73,1.05,.83,1.4,.93,.98,1.03,1.15,1.13,1.4,1.28,1.55,1.38,1.2,1.48,1.45,1.58,1.02,1.68,1.55,1.78,1.3,1.88,1.15,1.98,1.55,2.08,1.08,2.18,1.3,2.28,1.55,2.38,1.35,2.45,1.55];

function pairs(flat){
  var out = [];
  for (var i = 0; i < flat.length; i += 2) out.push([flat[i], flat[i+1]]);
  return out;
}
function columns(cols){
  var out = [];
  cols.forEach(function(c){ c[1].forEach(function(y){ out.push([c[0], y]); }); });
  return out;
}

var labelFont = 'Liberation Sans';
var bigFont = 'Lato';
var axisGrey = '#8a8a8a';
var lineOrange = '#cc6600';

function dots(name, data, color, xi){
  return {name:name, type:'scatter', xAxisIndex:xi, yAxisIndex:xi, data:data,
    symbol:'rect', symbolSize:4, itemStyle:{color:color}, silent:true};
}
function rule(name, data, xi, width, color, dash, offset, z){
  return {name:name, type:'line', xAxisIndex:xi, yAxisIndex:xi, data:data, showSymbol:false, clip:false,
    silent:true, z:z || 5, lineStyle:{color:color, width:width, type:dash || 'solid', dashOffset:offset || 0, cap:'butt'}};
}
function plotX(g, min, max, name, fontSize, shift, gap){
  return {gridIndex:g, type:'value', min:min, max:max, interval:1, axisLine:{onZero:false, lineStyle:{color:axisGrey, width:2}},
    axisTick:{length:5, lineStyle:{color:'#555'}}, minorTick:{show:true, splitNumber:2, length:3, lineStyle:{color:'#555'}},
    splitLine:{show:false}, minorSplitLine:{show:false},
    axisLabel:{color:'#333', fontFamily:labelFont, fontSize:fontSize, margin:8, showMaxLabel:false},
    name:name, nameLocation:'middle', nameGap:gap,
    nameTextStyle:{fontFamily:bigFont, fontSize:35, color:'#000', padding:[0,shift,0,0]}};
}
function plotY(g, min, max, name, shift, gap, fontSize){
  return {gridIndex:g, type:'value', min:min, max:max, axisLine:{onZero:false, lineStyle:{color:axisGrey, width:2}},
    axisTick:{length:3, lineStyle:{color:'#555'}, customValues:yTicks}, splitLine:{show:false},
    axisLabel:{color:'#333', fontFamily:labelFont, fontSize:fontSize, margin:7, customValues:yTicks},
    name:name, nameLocation:'middle', nameGap:gap, nameRotate:90,
    nameTextStyle:{fontFamily:bigFont, fontSize:35, color:'#000', padding:[0,shift,0,0]}};
}
function hiddenAxis(g, min, max){
  return {gridIndex:g, type:'value', min:min, max:max, show:false, splitLine:{show:false}};
}

var chart = echarts.init(document.getElementById('chart'), null, {renderer:'canvas'});
chart.setOption({
  animation:false,
  backgroundColor:'#bfbfbf',
  graphic:[
    {type:'rect', z:-10, shape:{x:11, y:51, width:1711, height:768, r:3},
      style:{fill:'#fff', stroke:'#000', lineWidth:8}},
    {type:'line', z:-9, shape:{x1:858.5, y1:55, x2:858.5, y2:815}, style:{stroke:'#222', lineWidth:1}}
  ],
  title:[
    {text:'Control', left:596, top:75, textStyle:{fontFamily:bigFont, fontSize:44, fontWeight:'normal', color:'#000'}},
    {text:'80 ppb O', left:970, top:79, textStyle:{fontFamily:bigFont, fontSize:42, fontWeight:'normal', color:'#000'}},
    {text:'3', left:1148, top:106, textStyle:{fontFamily:bigFont, fontSize:27, fontWeight:'normal', color:'#000'}}
  ],
  grid:[
    {left:86, top:58, width:762, height:677, show:true, borderColor:axisGrey, borderWidth:1.5, backgroundColor:'#fff'},
    {left:949, top:58, width:765, height:675, show:true, borderColor:axisGrey, borderWidth:1.5, backgroundColor:'#fff'},
    {left:0, top:9, width:858, height:806},
    {left:859, top:7, width:870, height:813}
  ],
  xAxis:[
    plotX(0, -5, 11.48, 'Log2(difference)', 17, 50, 41),
    plotX(1, -5, 8.51, 'Log2(difference)', 17, 43, 41),
    hiddenAxis(2, -6.862, 11.73),
    hiddenAxis(3, -6.59, 8.781)
  ],
  yAxis:[
    plotY(0, -1.11, 23.2, '-Log10(p-value)', 87, 33, 17),
    plotY(1, -1.12, 23.2, '-Log10(p-value)', 84, 48, 17),
    hiddenAxis(2, -3.986, 24.955),
    hiddenAxis(3, -4.25, 25.05)
  ],
  series:[
    dots('control black', columns(ctlBlack).concat(pairs(ctlBlackUpper)), '#000', 0),
    dots('control purple', pairs(ctlPurple), '#a83cf0', 0),
    dots('control green', pairs(ctlGreen), '#1cc440', 0),
    dots('control orange', pairs(ctlOrange), '#ec9044', 0),
    dots('control blue', pairs(ctlBlue), '#3b7de8', 0),
    dots('control teal', pairs(ctlTeal), '#1fb99a', 0),
    dots('control cyan', pairs(ctlCyan), '#22c4c8', 0),
    dots('control yellow', pairs(ctlYellow), '#d9c52b', 0),
    dots('control red', pairs(ctlRed), '#ee3a66', 0),
    dots('ozone black', columns(ozBlack).concat(pairs(ozBlackUpper)), '#000', 1),
    dots('ozone blue', pairs(ozBlue), '#3b7de8', 1),
    dots('ozone cyan', pairs(ozCyan), '#22c4c8', 1),
    dots('ozone green', pairs(ozGreen), '#1cc440', 1),
    dots('ozone orange', pairs(ozOrange), '#ec9044', 1),
    dots('ozone olive', pairs(ozOlive), '#a9c233', 1),
    dots('ozone purple', pairs(ozPurple), '#a83cf0', 1),
    dots('ozone magenta', pairs(ozMagenta), '#dc3cdc', 1),
    dots('ozone red', pairs(ozRed), '#ee3a66', 1),
    rule('ozone pink', [[-5, ozThreshold.pink],[8.51, ozThreshold.pink]], 1, 1.5, '#e3a6c4', [12,8], 0, 3),
    rule('control h', [[-6.862, ctlThreshold.y],[11.73, ctlThreshold.y]], 2, 6, lineOrange),
    rule('control v', [[ctlThreshold.x, 24.955],[ctlThreshold.x, -3.986]], 2, 6, lineOrange),
    rule('ozone h', [[-5.742, ozThreshold.y],[8.781, ozThreshold.y]], 3, 6, lineOrange, [24,18], 20),
    rule('ozone v', [[ozThreshold.x, 25.05],[ozThreshold.x, -2.18]], 3, 6, lineOrange, [24,18], 13.4)
  ]
});
</script>
</body>
</html>
